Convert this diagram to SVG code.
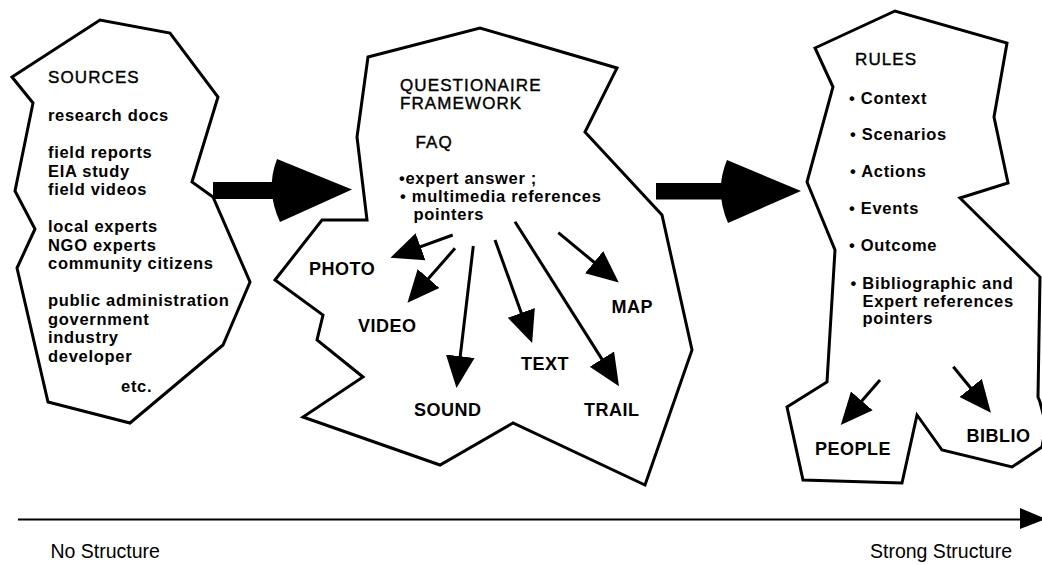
<svg xmlns="http://www.w3.org/2000/svg" width="1042" height="565" viewBox="0 0 1042 565">
  <style>
    .blob { fill: #fff; stroke: #000; stroke-width: 3; stroke-linejoin: miter; }
    .head { font-family: "Liberation Sans", Arial, sans-serif; font-size: 17px; letter-spacing: 1.1px; fill: #000; stroke: #000; stroke-width: 0.4px; }
    .item { font-family: "Liberation Sans", Arial, sans-serif; font-size: 16.5px; font-weight: bold; letter-spacing: 0.7px; fill: #000; }
    .lbl { font-family: "Liberation Sans", Arial, sans-serif; font-size: 18px; font-weight: bold; letter-spacing: 0.5px; fill: #000; }
    .axis-lbl { font-family: "Liberation Sans", Arial, sans-serif; font-size: 19.5px; fill: #000; }
    .shaft { stroke: #000; stroke-width: 3; fill: none; marker-end: url(#tri); }
    .solid { fill: #000; stroke: none; }
  </style>
  <defs>
    <!-- filled triangular head; line ends 10px into the head so the tip stays sharp -->
    <marker id="tri" markerUnits="userSpaceOnUse" markerWidth="32" markerHeight="30" viewBox="0 -14 30 28" refX="10" refY="0" orient="auto">
      <path d="M0,-13.5 L30,0 L0,13.5 Z" fill="#000"/>
    </marker>
  </defs>

  <rect width="1042" height="565" fill="#fff"/>

  <!-- Sources -->
  <g id="node-sources">
    <polygon class="blob" points="12,77 100,20 170,33 218,97 192,182 213,197 250,282 223,345 130,423 48,402 17,268 35,229 15,191 33,103"/>
    <text class="head" x="48" y="83">SOURCES</text>
    <text class="item" x="48" y="121">research docs</text>
    <text class="item" x="48" y="158">field reports</text>
    <text class="item" x="48" y="176.5">EIA study</text>
    <text class="item" x="48" y="195">field videos</text>
    <text class="item" x="48" y="232">local experts</text>
    <text class="item" x="48" y="250.5">NGO experts</text>
    <text class="item" x="48" y="269">community citizens</text>
    <text class="item" x="48" y="306">public administration</text>
    <text class="item" x="48" y="324.5">government</text>
    <text class="item" x="48" y="343">industry</text>
    <text class="item" x="48" y="361.5">developer</text>
    <text class="item" x="121" y="392">etc.</text>
  </g>

  <!-- Questionnaire framework -->
  <g id="node-questionnaire">
    <polygon class="blob" points="368,57 480,28 617,68 585,132 662,215 692,350 645,485 513,423 440,465 303,417 363,377 317,340 323,315 275,280 322,220 367,220 357,137"/>
    <text class="head" x="400" y="91">QUESTIONAIRE</text>
    <text class="head" x="400" y="109">FRAMEWORK</text>
    <text class="head" x="415.5" y="148">FAQ</text>
    <text class="item" x="399" y="183.5">•expert answer ;</text>
    <text class="item" x="400" y="201.5">• multimedia references</text>
    <text class="item" x="413.5" y="220">pointers</text>
  </g>
  <g id="node-photo"><text class="lbl" x="309" y="275">PHOTO</text></g>
  <g id="node-video"><text class="lbl" x="358" y="332">VIDEO</text></g>
  <g id="node-sound"><text class="lbl" x="414" y="416">SOUND</text></g>
  <g id="node-text"><text class="lbl" x="521" y="370">TEXT</text></g>
  <g id="node-trail"><text class="lbl" x="584" y="416">TRAIL</text></g>
  <g id="node-map"><text class="lbl" x="611.5" y="313">MAP</text></g>

  <!-- Rules -->
  <g id="node-rules">
    <polygon class="blob" points="815,48 895,11 1007,43 994,117 1008,183 960,198 1040,277 1038,397 1040,402 1046,425 1042,447 1012,467 942,450 917,415 902,483 803,480 787,407 827,382 835,250 807,182 833,87"/>
    <text class="head" x="855" y="65">RULES</text>
    <text class="item" x="849" y="103.5">• Context</text>
    <text class="item" x="850" y="140">• Scenarios</text>
    <text class="item" x="850" y="177">• Actions</text>
    <text class="item" x="849" y="213.5">• Events</text>
    <text class="item" x="849" y="251">• Outcome</text>
    <text class="item" x="850.5" y="289">• Bibliographic and</text>
    <text class="item" x="862.5" y="307">Expert references</text>
    <text class="item" x="862.5" y="324">pointers</text>
  </g>
  <g id="node-people"><text class="lbl" x="815" y="455">PEOPLE</text></g>
  <g id="node-biblio"><text class="lbl" x="966.5" y="441.5">BIBLIO</text></g>

  <!-- Connectors -->
  <g id="connectors">
    <!-- stage arrows -->
    <rect class="solid" x="213" y="182" width="66" height="17"/>
    <path class="solid" d="M277,159 L352,189.5 L280,222 Q265,190 277,159 Z"/>
    <rect class="solid" x="656" y="183" width="70" height="16.5"/>
    <path class="solid" d="M727,160 L801,191 L728,223 Q714,191 727,160 Z"/>

    <!-- media links -->
    <line class="shaft" x1="452.7" y1="235" x2="410.5" y2="250.4"/>
    <line class="shaft" x1="455" y1="248.3" x2="421.5" y2="286.6"/>
    <line class="shaft" x1="473.3" y1="246" x2="459" y2="366.8"/>
    <line class="shaft" x1="495" y1="240" x2="524.9" y2="322.9"/>
    <line class="shaft" x1="515" y1="221.7" x2="607.6" y2="368.1"/>
    <line class="shaft" x1="558.3" y1="232.7" x2="602.3" y2="269"/>

    <!-- reference links -->
    <line class="shaft" x1="880" y1="380" x2="854.8" y2="408.9"/>
    <line class="shaft" x1="953.3" y1="366.7" x2="977.4" y2="396.2"/>

    <!-- structure axis -->
    <line x1="18" y1="519.5" x2="1022" y2="519.5" stroke="#000" stroke-width="2"/>
    <polygon class="solid" points="1020,508 1046,519 1020,529"/>
  </g>

  <text class="axis-lbl" x="50.5" y="557.5">No Structure</text>
  <text class="axis-lbl" x="870" y="557.5">Strong Structure</text>
</svg>
